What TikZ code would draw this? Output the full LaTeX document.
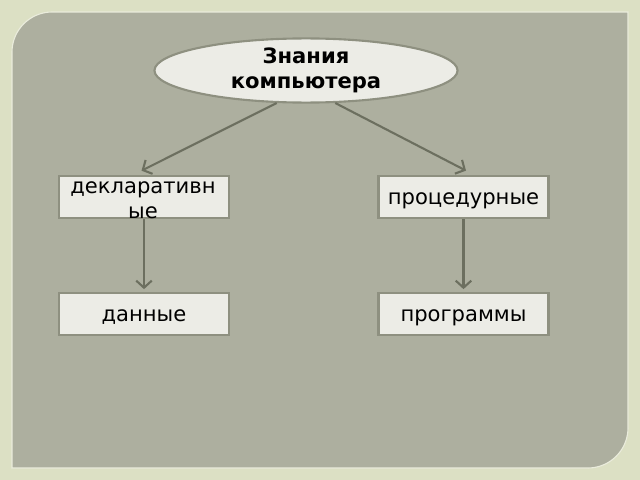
\documentclass[tikz,border=0pt]{standalone}
\usepackage{fontspec}
\setmainfont{DejaVu Sans}
\usetikzlibrary{arrows.meta,shapes.geometric,calc}
\definecolor{outerbg}{HTML}{DCE0C4}
\definecolor{panel}{HTML}{ADAF9F}
\definecolor{boxfill}{HTML}{ECECE6}
\definecolor{boxline}{HTML}{8E9080}
\definecolor{arrowcol}{HTML}{6C6F5F}

\begin{document}
\begin{tikzpicture}[x=0.025cm,y=-0.025cm]
\tikzstyle{box}=[draw=boxline, line width=1.5pt, fill=boxfill, minimum width=4.25cm, minimum height=1.05cm, inner sep=0pt, text height=1.3em, text depth=0.2em, font=\fontsize{15}{18}\selectfont]
\tikzstyle{link}=[draw=arrowcol, line width=1.5pt, -{Straight Barb[length=5pt,width=11pt]}, shorten >=2pt]
% background and panel
\fill [outerbg] (0,0) rectangle (640,480);
\fill [panel, draw=outerbg!60!white, line width=0.8pt] (12,52) .. controls (12,30) and (30,12) .. (52,12) -- (628,12) -- (628,428) .. controls (628,450) and (610,468) .. (588,468) -- (12,468) -- cycle;
% nodes
\node [ellipse, draw=boxline, line width=1.5pt, fill=boxfill, minimum width=7.575cm, minimum height=1.6cm, inner sep=0pt, align=center, font=\bfseries\fontsize{15}{18}\selectfont] (know) at (306,70.5) {Знания\\компьютера};
\node [box] (decl) at (144,197) {};
\node [anchor=north, inner sep=0pt, align=center, font=\fontsize{15}{18}\selectfont] (decltext) at (143,181) {декларативн\\ые};
\node [box] (proc) at (463.5,197) {процедурные};
\node [box] (data) at (144,314) {данные};
\node [box] (prog) at (463.5,314) {программы};
% arrows
\draw [link] (know.228) -- ($(decl.north)+(-5,-3)$);
\draw [link] (know.312) -- ($(proc.north)+(5,-3)$);
\draw [link] (decl.south) -- (data.north);
\draw [link] (proc.south) -- (prog.north);
\end{tikzpicture}
\end{document}
